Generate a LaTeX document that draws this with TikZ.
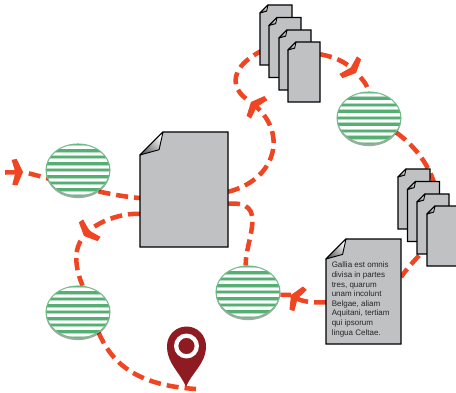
\documentclass[tikz,border=0pt]{standalone}
\usepackage{fontspec}
\setmainfont{Liberation Sans}
\usetikzlibrary{arrows.meta,calc,shapes.geometric,shadows,backgrounds}
\definecolor{routered}{HTML}{F04522}
\definecolor{papergray}{HTML}{C0C1C3}
\definecolor{stripegreen}{HTML}{55AE72}
\definecolor{softgreen}{HTML}{B5DCC2}
\definecolor{edgegreen}{HTML}{70BD88}
\definecolor{pinred}{HTML}{8E1B21}
\pgfdeclarearrow{name=Chevron,
 setup code={\pgfarrowssettipend{0pt}\pgfarrowssetlineend{-5pt}\pgfarrowssetvisualbackend{-8.3pt}\pgfarrowssetbackend{-8.3pt}%
  \pgfarrowshullpoint{0pt}{0pt}\pgfarrowsupperhullpoint{-8.3pt}{10pt}},
 drawing code={\pgfpathmoveto{\pgfpoint{0pt}{0pt}}\pgfpathlineto{\pgfpoint{-4.5pt}{10pt}}\pgfpathlineto{\pgfpoint{-8.3pt}{9.3pt}}%
  \pgfpathlineto{\pgfpoint{-5.7pt}{0pt}}\pgfpathlineto{\pgfpoint{-8.3pt}{-9.3pt}}\pgfpathlineto{\pgfpoint{-4.5pt}{-10pt}}\pgfpathclose\pgfusepathqfill}}
\newcommand{\paper}[5]{%
 \node[minimum width=#3pt,minimum height=#4pt,inner sep=0,outer sep=0] (#1) at #2 {};
 \draw[paperline] ($(#1.north west)+(#5,0)$)--(#1.north east)--(#1.south east)--(#1.south west)--($(#1.north west)+(0,#5)$)--cycle;
 \shade[draw=black,line width=.7pt,line join=round,left color=white,right color=black!60,shading angle=-45]
  ($(#1.north west)+(#5,0)$)--($(#1.north west)+(0,#5)$)--($(#1.north west)+(.83*#5,.77*#5)$)--cycle;}
\begin{document}
\begin{tikzpicture}[x=.75pt,y=-.75pt,
  paperline/.style={draw=black,fill=papergray,line width=.9pt,line join=miter},
  route/.style={draw=routered,line width=3.4pt,dash pattern=on 9pt off 4.5pt},
  aftertip/.style={route,dash phase=9pt},
  barb/.style={-{Chevron}},
  hub/.style={ellipse,draw=edgegreen,line width=.8pt,fill=white,minimum width=48pt,minimum height=39pt,inner sep=0,
    drop shadow={shadow xshift=0pt,shadow yshift=-1.6pt,opacity=.35,fill=black},
    path picture={\begin{scope}[shift={(path picture bounding box.center)}]
      \foreach \k in {-4,...,4}{\draw[softgreen,line width=3pt] (-40,\k*6.5)--(40,\k*6.5);
       \draw[stripegreen,line width=1.9pt] (-40,\k*6.5)--(40,\k*6.5);}
    \end{scope}}}]
 \useasboundingbox (0,0) rectangle (456,392);
 % hubs
 \node[hub] (hubleft) at (78,170) {};
 \node[hub] (hubdown) at (78,312) {};
 \node[hub] (hubmid) at (248,292) {};
 \node[hub] (hubtop) at (369,118) {};
 % papers
 \paper{maindoc}{(184,189.5)}{66}{86.25}{23}
 \foreach \n/\cx/\cy in {topa/276/35,topb/285/47.5,topc/295/60,topd/304/72}{\paper{\n}{(\cx,\cy)}{24}{45}{8}}
 \foreach \n/\cx/\cy in {lowa/414/199,lowb/423.5/211.5,lowc/433/224,lowd/443/236}{\paper{\n}{(\cx,\cy)}{24}{45}{8}}
 \paper{textdoc}{(363.5,291.5)}{56.25}{78.75}{20}
 \node[anchor=west,align=left,inner sep=0,text=black!85,font=\fontsize{6}{7.2}\selectfont] (galliatext) at (331.5,299.5)
  {Gallia est omnis\\divisa in partes\\tres, quarum\\unam incolunt\\Belgae, aliam\\Aquitani, tertiam\\qui ipsorum\\lingua Celtae.};
 % pin
 \coordinate (pintip) at (186,387);
 \fill[pinred] (pintip) .. controls (180,372) and (167,364) .. (167,346) arc[start angle=180,end angle=360,radius=19.5]
  .. controls (206,364) and (192,372) .. (pintip)--cycle;
 \draw[white,line width=3.2pt] (186.5,346) circle (10.3);
 % turning points of the route
 \coordinate (starta) at (5,172.5);
 \coordinate (tipa) at (23,172);
 \coordinate (tipb) at (84,236);
 \coordinate (tipd) at (251,102);
 \coordinate (tipe) at (356,73);
 \coordinate (tipg) at (291,295);
 \coordinate (behindlow) at (440,215);
 \coordinate (routeend) at (196,389);
 \begin{scope}[on background layer]
  \draw[route,barb] (starta)--(tipa);
  \draw[aftertip] (tipa) .. controls (50,178) and (100,195) .. (maindoc.191);
  \draw[route,barb] (maindoc.209) .. controls (120,213) and (98,222) .. (tipb);
  \draw[aftertip] (tipb) .. controls (72,250) and (76,270) .. (hubdown.80);
  \draw[route] (hubdown.-45) .. controls (110,358) and (130,385) .. (routeend);
  \draw[route,barb] (maindoc.-3) .. controls (275,180) and (288,135) .. (tipd);
  \draw[aftertip] (tipd) .. controls (226,88) and (226,58) .. (topa.-15);
  \draw[route,barb] (topd.48) .. controls (335,57) and (345,62) .. (tipe);
  \draw[aftertip] (tipe) .. controls (362,78) and (367,85) .. (hubtop.north);
  \draw[route] (hubtop.-28) .. controls (420,150) and (438,175) .. (behindlow) .. controls (442,240) and (420,250) .. (textdoc.21);
  \draw[route,barb] (textdoc.196) .. controls (315,303) and (303,302) .. (tipg);
  \draw[route,solid] (tipg)--(hubmid.-5);
  \draw[route] (maindoc.-18) .. controls (270,200) and (245,240) .. (hubmid.95);
 \end{scope}
\end{tikzpicture}
\end{document}
